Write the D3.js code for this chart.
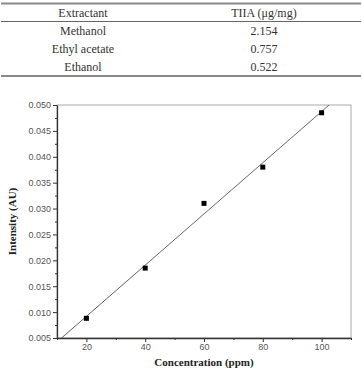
<!DOCTYPE html>
<html>
<head>
<script src="https://d3js.org/d3.v7.min.js"></script>
<style>
body { margin: 0; background: #fff; }
svg { display: block; }
</style>
</head>
<body>
<svg width="362" height="371"></svg>
<script>
// table data
var extractants = ["Methanol", "Ethyl acetate", "Ethanol"];
var tiia = ["2.154", "0.757", "0.522"];
var headers = ["Extractant", "TIIA (\u03bcg/mg)"];

// calibration data
var conc = [20, 40, 60, 80, 100];
var intensity = [0.0088, 0.0185, 0.031, 0.038, 0.0485];
var xTicks = [20, 40, 60, 80, 100];
var yTicks = [0.005, 0.010, 0.015, 0.020, 0.025, 0.030, 0.035, 0.040, 0.045, 0.050];

var svg = d3.select("svg");

// ---- table ----
var colX = [83, 264];
var tbl = svg.append("g").attr("font-family", "'Liberation Serif', 'Times New Roman', serif")
  .attr("font-size", 12).attr("fill", "#333").attr("text-anchor", "middle");

tbl.append("line").attr("x1", 1).attr("x2", 361).attr("y1", 3.5).attr("y2", 3.5)
  .attr("stroke", "#888").attr("stroke-width", 2);
tbl.append("line").attr("x1", 1).attr("x2", 361).attr("y1", 21.5).attr("y2", 21.5)
  .attr("stroke", "#666").attr("stroke-width", 1);
tbl.append("line").attr("x1", 1).attr("x2", 361).attr("y1", 76).attr("y2", 76)
  .attr("stroke", "#888").attr("stroke-width", 2);

headers.forEach(function (h, i) {
  tbl.append("text").attr("x", colX[i]).attr("y", 17).text(h);
});
extractants.forEach(function (e, i) {
  tbl.append("text").attr("x", colX[0]).attr("y", 35 + i * 18).text(e);
  tbl.append("text").attr("x", colX[1]).attr("y", 35 + i * 18).text(tiia[i]);
});

// ---- chart ----
var pLeft = 57, pRight = 351, pTop = 105, pBottom = 338;

var x = d3.scaleLinear().domain([10, 110]).range([pLeft, pRight]);
var y = d3.scaleLinear().domain([0.005, 0.050]).range([pBottom, pTop]);

// frame (top and right lighter)
svg.append("rect").attr("x", pLeft).attr("y", pTop)
  .attr("width", pRight - pLeft).attr("height", pBottom - pTop)
  .attr("fill", "none").attr("stroke", "#aaa").attr("stroke-width", 1);

// minor ticks
var xMinor = [10, 30, 50, 70, 90, 110];
var yMinor = yTicks.slice(0, -1).map(function (d) { return d + 0.0025; });

svg.append("g").attr("transform", "translate(0," + pBottom + ")")
  .call(d3.axisBottom(x).tickValues(xTicks).tickSize(4).tickPadding(2).tickSizeOuter(0));
svg.append("g").attr("transform", "translate(0," + pBottom + ")")
  .call(d3.axisBottom(x).tickValues(xMinor).tickSize(2).tickFormat("").tickSizeOuter(0))
  .select(".domain").remove();

svg.append("g").attr("transform", "translate(" + pLeft + ",0)")
  .call(d3.axisLeft(y).tickValues(yTicks).tickFormat(d3.format(".3f")).tickSize(4).tickPadding(2).tickSizeOuter(0));
svg.append("g").attr("transform", "translate(" + pLeft + ",0)")
  .call(d3.axisLeft(y).tickValues(yMinor).tickSize(2).tickFormat("").tickSizeOuter(0))
  .select(".domain").remove();

svg.selectAll(".tick text").attr("font-family", "'Liberation Sans', Arial, sans-serif")
  .attr("font-size", 9).attr("fill", "#555");
svg.selectAll(".domain").attr("stroke", "#333").attr("stroke-width", 1.3);
svg.selectAll(".tick line").attr("stroke", "#333");

// regression line
var mx = d3.mean(conc), my = d3.mean(intensity);
var sxy = d3.sum(conc, function (d, i) { return (d - mx) * (intensity[i] - my); });
var sxx = d3.sum(conc, function (d) { return (d - mx) * (d - mx); });
var slope = sxy / sxx, icpt = my - slope * mx;

svg.append("clipPath").attr("id", "plot").append("rect")
  .attr("x", pLeft).attr("y", pTop).attr("width", pRight - pLeft).attr("height", pBottom - pTop);

svg.append("line").attr("clip-path", "url(#plot)")
  .attr("x1", x(0)).attr("y1", y(icpt))
  .attr("x2", x(120)).attr("y2", y(slope * 120 + icpt))
  .attr("stroke", "#666").attr("stroke-width", 1);

// points
svg.selectAll("rect.pt").data(conc).enter().append("rect").attr("class", "pt")
  .attr("x", function (d) { return x(d) - 2.5; })
  .attr("y", function (d, i) { return y(intensity[i]) - 2.5; })
  .attr("width", 5).attr("height", 5).attr("fill", "#000");

// axis titles
svg.append("text").attr("x", (pLeft + pRight) / 2).attr("y", 366)
  .attr("text-anchor", "middle").attr("font-family", "'Liberation Serif', 'Times New Roman', serif")
  .attr("font-weight", "bold").attr("font-size", 11).attr("fill", "#222")
  .text("Concentration (ppm)");

svg.append("text").attr("transform", "translate(16," + (pTop + pBottom) / 2 + ") rotate(-90)")
  .attr("text-anchor", "middle").attr("font-family", "'Liberation Serif', 'Times New Roman', serif")
  .attr("font-weight", "bold").attr("font-size", 11).attr("fill", "#222")
  .text("Intensity (AU)");
</script>
</body>
</html>
